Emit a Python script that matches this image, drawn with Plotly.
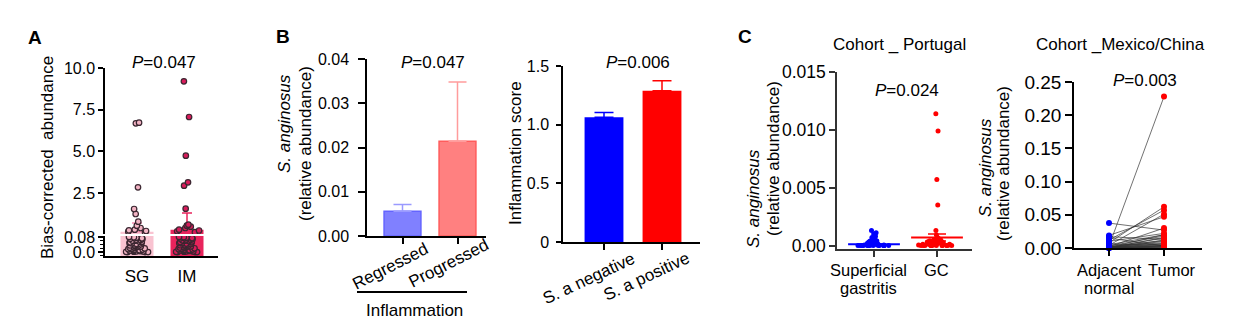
import plotly.graph_objects as go

W, H = 1257, 324
FONT = "Liberation Sans, Arial, Helvetica, sans-serif"

# ---------------- data ----------------
# Panel A (broken y axis)
a_groups = ["SG", "IM"]
a_means = [0.18, 0.30]
a_err_up = [0.52, 1.00]
a_sg_values = [6.72, 6.68, 2.84, 1.54, 1.24, 0.78, 0.54, 0.40, 0.30, 0.26, 0.22, 0.18, 0.14,
               0.080, 0.078, 0.076, 0.073, 0.071, 0.069, 0.066, 0.064, 0.061, 0.060, 0.057, 0.055,
               0.052, 0.050, 0.049, 0.046, 0.044, 0.041, 0.040, 0.038, 0.035, 0.033, 0.031, 0.029,
               0.027, 0.025, 0.023, 0.021, 0.019, 0.017, 0.015, 0.013, 0.011, 0.010, 0.008, 0.007,
               0.005, 0.004, 0.003, 0.002, 0.001, 0.000, 0.000, 0.000]
a_im_values = [9.20, 7.06, 4.74, 3.14, 2.94, 1.56, 0.60, 0.54, 0.48, 0.40, 0.30, 0.25, 0.20, 0.15,
               0.080, 0.079, 0.076, 0.074, 0.072, 0.069, 0.067, 0.065, 0.062, 0.060, 0.058, 0.056,
               0.053, 0.051, 0.048, 0.047, 0.045, 0.042, 0.040, 0.039, 0.036, 0.034, 0.032, 0.030,
               0.028, 0.026, 0.024, 0.022, 0.020, 0.018, 0.016, 0.014, 0.012, 0.010, 0.009, 0.007,
               0.006, 0.004, 0.003, 0.002, 0.001, 0.000, 0.000, 0.000]
a_upper_range = [0.04, 10.0]
a_lower_range = [-0.021, 0.085]
a_break = 0.08

# Panel B left
b1_groups = ["Regressed", "Progressed"]
b1_means = [0.0056, 0.0214]
b1_err_up = [0.0015, 0.0134]

# Panel B right
b2_groups = ["S. a negative", "S. a positive"]
b2_means = [1.063, 1.29]
b2_err_up = [0.04, 0.085]

# Panel C left (Portugal)
c1_groups = ["Superficial", "GC"]
c1_sg_values = [0.0013, 0.0011, 0.0010, 0.0008, 0.0007, 0.0006, 0.0005, 0.0004, 0.0004, 0.0004,
                0.0003, 0.0003, 0.0003, 0.0002, 0.0002, 0.0002, 0.0002, 0.0001, 0.0001, 0.0001,
                0.0001, 0.0001, 0.00005, 0.00005, 0.00005, 0.0, 0.0, 0.0, 0.0, 0.0, 0.0, 0.0,
                0.0, 0.0, 0.0, 0.0, 0.0, 0.0, 0.0, 0.0]
c1_gc_values = [0.0114, 0.0099, 0.0057, 0.0035, 0.0013, 0.0009, 0.0007, 0.0006, 0.0005, 0.0005,
                0.0004, 0.0004, 0.0004, 0.0003, 0.0003, 0.0003, 0.0003, 0.0002, 0.0002, 0.0002,
                0.0002, 0.0001, 0.0001, 0.0001, 0.0001, 0.0001, 0.00005, 0.00005, 0.0, 0.0, 0.0,
                0.0, 0.0, 0.0, 0.0, 0.0, 0.0, 0.0, 0.0, 0.0]
c1_means = [0.0001, 0.0007]
c1_sem = [0.00004, 0.0003]

# Panel C right (Mexico/China), paired samples
c2_groups = ["Adjacent", "Tumor"]
c2_normal = [0.0375, 0.019, 0.017, 0.015, 0.012, 0.010, 0.008, 0.006, 0.005, 0.004,
             0.003, 0.003, 0.002, 0.002, 0.002, 0.0015, 0.001, 0.001, 0.001, 0.0008,
             0.0005, 0.0005, 0.0003, 0.0003, 0.0002, 0.0002, 0.0001, 0.0001, 0.0001, 0.0]
c2_tumor = [0.027, 0.047, 0.013, 0.003, 0.057, 0.022, 0.062, 0.004, 0.020, 0.051,
            0.228, 0.018, 0.030, 0.011, 0.008, 0.006, 0.020, 0.015, 0.005, 0.003,
            0.010, 0.002, 0.016, 0.001, 0.007, 0.004, 0.002, 0.012, 0.001, 0.003]

p_values = ["0.047", "0.047", "0.006", "0.024", "0.003"]

# ---------------- colours ----------------
SG_FILL, IM_FILL = "#f9c3d1", "#e8245c"
SG_DOT, IM_DOT = "#f2b3c3", "#d81b5a"
BLUE, RED = "#0000ff", "#ff0000"

# ---------------- helpers ----------------
def xdom(l, r):
    return [l / W, r / W]

def ydom(top, bottom):
    return [1 - bottom / H, 1 - top / H]

def xrange_px(left, right, c0, c1):
    u = c1 - c0
    return [(left - c0) / u, (right - c0) / u]

def jitter(x0, vals, xa, ya, fill, edge, size, width, lw=1.2):
    return go.Box(x0=x0, y=vals, xaxis=xa, yaxis=ya, boxpoints="all", jitter=1.0, pointpos=0,
                  width=width, fillcolor="rgba(0,0,0,0)",
                  line=dict(width=0, color="rgba(0,0,0,0)"),
                  marker=dict(color=fill, size=size, line=dict(color=edge, width=lw)),
                  showlegend=False, hoverinfo="y")

fig = go.Figure()

# ---------------- Panel A ----------------
a_x = [0, 1]
fig.add_trace(go.Bar(x=a_x, y=[m - a_lower_range[0] for m in a_means], base=a_lower_range[0],
                     width=0.66, marker=dict(color=[SG_FILL, IM_FILL], line=dict(width=0)),
                     xaxis="x", yaxis="y", showlegend=False))
for i, col in enumerate(["#f48fb1", IM_FILL]):
    fig.add_trace(go.Bar(x=[a_x[i]], y=[a_means[i]], width=0.66,
                         marker=dict(color=[SG_FILL, IM_FILL][i], line=dict(width=0)),
                         error_y=dict(type="data", symmetric=False, array=[a_err_up[i]],
                                      arrayminus=[0], color=col, thickness=1.5, width=5),
                         xaxis="x", yaxis="y2", showlegend=False))
for i, (vals, fill) in enumerate([(a_sg_values, SG_DOT), (a_im_values, IM_DOT)]):
    low = [v for v in vals if v <= a_break]
    high = [v for v in vals if v > a_break]
    fig.add_trace(jitter(a_x[i], low, "x", "y", fill, "#3a2630", 5.5, 0.62))
    fig.add_trace(jitter(a_x[i], high, "x", "y2", fill, "#3a2630", 5.5, 0.62))

# ---------------- Panel B left ----------------
b1_fill = ["#8080ff", "#ff8080"]
b1_line = ["#6464ff", "#ff5c5c"]
b1_errc = ["#9a9aff", "#ff9c9c"]
for i in range(2):
    fig.add_trace(go.Bar(x=[i], y=[b1_means[i]], width=0.67,
                         marker=dict(color=b1_fill[i], line=dict(color=b1_line[i], width=1.5)),
                         error_y=dict(type="data", symmetric=False, array=[b1_err_up[i]],
                                      arrayminus=[0], color=b1_errc[i], thickness=1.5, width=9),
                         xaxis="x3", yaxis="y3", showlegend=False))

# ---------------- Panel B right ----------------
b2_fill = [BLUE, RED]
for i in range(2):
    fig.add_trace(go.Bar(x=[i], y=[b2_means[i]], width=0.67,
                         marker=dict(color=b2_fill[i], line=dict(width=0)),
                         error_y=dict(type="data", symmetric=False, array=[b2_err_up[i]],
                                      arrayminus=[0], color=b2_fill[i], thickness=1.5, width=9.5),
                         xaxis="x4", yaxis="y4", showlegend=False))

# ---------------- Panel C left ----------------
fig.add_trace(jitter(0, c1_sg_values, "x5", "y5", BLUE, BLUE, 5, 0.6, lw=0))
fig.add_trace(jitter(1, c1_gc_values, "x5", "y5", RED, RED, 5, 0.6, lw=0))
for i, col in enumerate([BLUE, RED]):
    fig.add_trace(go.Scatter(x=[i], y=[c1_means[i]], mode="markers", cliponaxis=False,
                             marker=dict(symbol="line-ew-open", size=37, color=col,
                                         line=dict(color=col, width=2)),
                             error_y=dict(type="data", array=[c1_sem[i]], color=col,
                                          thickness=1.5, width=9),
                             xaxis="x5", yaxis="y5", showlegend=False))

# ---------------- Panel C right ----------------
lx, ly = [], []
for n, t in zip(c2_normal, c2_tumor):
    lx += [0, 1, None]
    ly += [n, t, None]
fig.add_trace(go.Scatter(x=lx, y=ly, mode="lines", line=dict(color="#333333", width=0.7),
                         xaxis="x6", yaxis="y6", showlegend=False, cliponaxis=False))
fig.add_trace(go.Scatter(x=[0] * len(c2_normal), y=c2_normal, mode="markers", cliponaxis=False,
                         marker=dict(color=BLUE, size=6), xaxis="x6", yaxis="y6", showlegend=False))
fig.add_trace(go.Scatter(x=[1] * len(c2_tumor), y=c2_tumor, mode="markers", cliponaxis=False,
                         marker=dict(color=RED, size=6), xaxis="x6", yaxis="y6", showlegend=False))

# ---------------- axes ----------------
def yaxis(dom, rng, anchor, tickvals, ticktext, size=16, ticklen=5, color="black", standoff=0, **kw):
    d = dict(domain=dom, range=rng, anchor=anchor, showline=True, linecolor=color, linewidth=1.5,
             ticks="outside", ticklen=ticklen, tickwidth=1.5, tickcolor=color,
             tickvals=tickvals, ticktext=ticktext, showgrid=False, zeroline=False,
             automargin=False,
             tickfont=dict(family=FONT, size=size, color="black"), ticklabelstandoff=standoff)
    d.update(kw)
    return d

def xaxis(dom, rng, anchor, ticks=True, color="black", **kw):
    d = dict(domain=dom, range=rng, anchor=anchor, type="linear", showline=True, linecolor=color,
             linewidth=1.5, ticks="outside" if ticks else "", ticklen=6, tickwidth=1.5,
             tickcolor=color, tickvals=[0, 1], showticklabels=False, showgrid=False,
             zeroline=False, automargin=False)
    d.update(kw)
    return d

layout = dict(
    width=W, height=H, autosize=False, margin=dict(l=0, r=0, t=0, b=0, pad=0, autoexpand=False),
    paper_bgcolor="white", plot_bgcolor="white", showlegend=False, barmode="overlay",
    boxmode="overlay", font=dict(family=FONT, color="black"),
    xaxis=xaxis(xdom(105, 218), xrange_px(105, 218, 137, 187), "y",
                showticklabels=True, ticktext=a_groups, ticks="outside", ticklen=4,
                tickcolor="rgba(0,0,0,0)", tickfont=dict(family=FONT, size=17)),
    yaxis=yaxis(ydom(236, 256), a_lower_range, "x", [0, 0.08], ["0.0", "0.08"],
                minor=dict(ticks="outside", ticklen=3, tickwidth=1, dtick=0.02, tick0=0,
                           tickcolor="black", showgrid=False)),
    yaxis2=yaxis(ydom(68, 234), a_upper_range, "x", [2.5, 5, 7.5, 10],
                 ["2.5", "5.0", "7.5", "10.0"]),
    xaxis3=xaxis(xdom(367, 486), xrange_px(367, 486, 402.5, 457.5), "y3"),
    yaxis3=yaxis(ydom(59, 236), [0, 0.04], "x3", [0, 0.01, 0.02, 0.03, 0.04],
                 ["0.00", "0.01", "0.02", "0.03", "0.04"], ticklen=7, standoff=6),
    xaxis4=xaxis(xdom(563, 700), xrange_px(563, 700, 604, 662), "y4"),
    yaxis4=yaxis(ydom(66, 242), [0, 1.5], "x4", [0, 0.5, 1.0, 1.5],
                 ["0", "0.5", "1.0", "1.5"], ticklen=5, standoff=4),
    xaxis5=xaxis(xdom(837, 972), xrange_px(837, 972, 874, 937), "y5", color="#333333"),
    yaxis5=yaxis(ydom(72, 249), [-0.0003, 0.015], "x5", [0, 0.005, 0.010, 0.015],
                 ["0.00", "0.005", "0.010", "0.015"], size=17.5, ticklen=6, color="#333333"),
    xaxis6=xaxis(xdom(1074, 1202), xrange_px(1074, 1202, 1109, 1164), "y6"),
    yaxis6=yaxis(ydom(82, 248), [0, 0.25], "x6", [0, 0.05, 0.10, 0.15, 0.20, 0.25],
                 ["0.00", "0.05", "0.10", "0.15", "0.20", "0.25"], size=19, ticklen=7),
)
fig.update_layout(**layout)

# ---------------- annotations ----------------
ann = []

def txt(text, x, y, size=17, angle=0, xref="paper", bold=False, italic=False):
    if bold:
        text = "<b>" + text + "</b>"
    if italic:
        text = "<i>" + text + "</i>"
    ann.append(dict(text=text, x=(x / W) if xref == "paper" else x, y=1 - y / H,
                    xref=xref, yref="paper", showarrow=False, textangle=angle,
                    xanchor="center", yanchor="middle",
                    font=dict(family=FONT, size=size, color="black")))

txt("A", 35, 38, size=19, bold=True)
txt("B", 283, 37, size=19, bold=True)
txt("C", 745, 36, size=19, bold=True)

for p, (x, y) in zip(p_values, [(164, 63), (433, 63), (638, 63), (907, 90), (1145, 80)]):
    txt("<i>P</i>=" + p, x, y)

txt("Cohort _ Portugal", 899, 45)
txt("Cohort _Mexico/China", 1120, 45)

txt("Bias-corrected\u00a0\u00a0abundance", 48, 158, angle=-90)
txt("S. anginosus", 285, 124, angle=-90, italic=True)
txt("(relative abundance)", 305, 144, angle=-90)
txt("Inflammation score", 515, 153, angle=-90)
txt("S. anginosus", 754, 199, angle=-90, italic=True)
txt("(relative abundance)", 773, 159, angle=-90)
txt("S. anginosus", 985, 167, angle=-90, italic=True)
txt("(relative abundance)", 1003, 164, angle=-90)


def cat_label(text, x, xref, y, angle=0, size=17):
    ann.append(dict(text=text, x=x, xref=xref, y=1 - y / H, yref="paper", showarrow=False,
                    textangle=angle, xanchor="center", yanchor="middle",
                    font=dict(family=FONT, size=size, color="black")))

# rotated category labels, placed through the axis scales
cat_label(b1_groups[0], -0.23, "x3", 266, angle=-27)
cat_label(b1_groups[1], 0.83, "x3", 263, angle=-27)
cat_label(b2_groups[0], -0.26, "x4", 278, angle=-25)
cat_label(b2_groups[1], 0.73, "x4", 276, angle=-25)
txt("Inflammation", 414, 310)

cat_label(c1_groups[0], -0.095, "x5", 270, size=16.5)
cat_label("gastritis", -0.095, "x5", 288, size=16.5)
cat_label(c1_groups[1], 1, "x5", 270, size=16.5)
cat_label(c2_groups[0], 0, "x6", 270, size=16.5)
cat_label("normal", 0, "x6", 288, size=16.5)
cat_label(c2_groups[1], 1.145, "x6", 270, size=16.5)

fig.update_layout(annotations=ann)
fig.add_shape(type="line", xref="paper", yref="paper", x0=357 / W, x1=467 / W,
              y0=1 - 292 / H, y1=1 - 292 / H, line=dict(color="black", width=2))

fig.write_html("out.html",
               post_script="document.documentElement.style.margin='0';"
                           "document.body.style.margin='0';"
                           "document.body.style.overflow='hidden';"
                           "document.documentElement.style.overflow='hidden';")
